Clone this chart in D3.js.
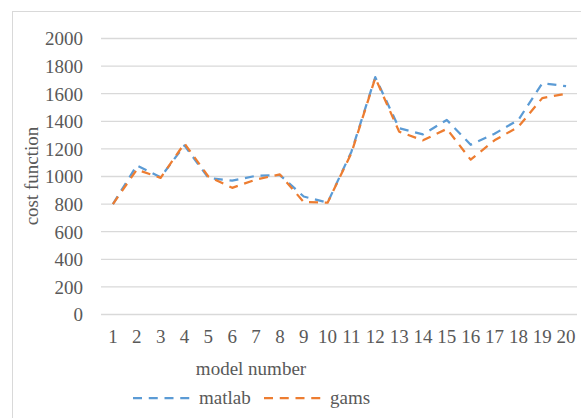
<!DOCTYPE html>
<html><head><meta charset="utf-8">
<script src="https://cdn.jsdelivr.net/npm/d3@7"></script>
<style>
html,body{margin:0;padding:0;background:#fff;}
</style></head>
<body>
<svg id="c" width="581" height="418"></svg>
<script>
const categories = [1,2,3,4,5,6,7,8,9,10,11,12,13,14,15,16,17,18,19,20];
const matlab = [800,1080,995,1225,990,970,1005,1010,855,810,1180,1720,1350,1305,1410,1230,1310,1410,1675,1655];
const gams   = [800,1050,990,1240,1000,918,978,1015,815,810,1170,1715,1325,1262,1345,1122,1262,1360,1568,1600];
const yTicks = [0,200,400,600,800,1000,1200,1400,1600,1800,2000];
const seriesNames = ["matlab","gams"];
const colors = ["#5B9BD5","#ED7D31"];

const svg = d3.select("#c");
const textColor = "#595959";
const fs = 19;
const FF = "'Liberation Serif'";

svg.append("rect").attr("x",12.5).attr("y",11.5).attr("width",600).attr("height",440)
  .attr("fill","none").attr("stroke","#D9D9D9").attr("stroke-width",1);

const x = d3.scaleBand().domain(categories).range([101,578]);
const y = d3.scaleLinear().domain([0,2000]).range([314.5,38.5]);

svg.append("g").selectAll("line").data(yTicks).join("line")
  .attr("x1",101).attr("x2",577).attr("y1",d=>y(d)).attr("y2",d=>y(d))
  .attr("stroke","#D9D9D9").attr("stroke-width",1.3);

const yAxis = d3.axisLeft(y).tickValues(yTicks).tickFormat(d3.format("d")).tickSize(0).tickPadding(0);
const gy = svg.append("g").attr("transform","translate(83,0)").call(yAxis);
gy.select(".domain").remove();
gy.selectAll("text").attr("fill",textColor).style("font-family",FF).style("font-size",fs+"px").attr("dy","0.34em");

const xAxis = d3.axisBottom(x).tickSize(0).tickPadding(0);
const gx = svg.append("g").attr("transform","translate(0,329)").call(xAxis);
gx.select(".domain").remove();
gx.selectAll("text").attr("fill",textColor).style("font-family",FF).style("font-size",fs+"px").attr("dy","0.71em");

svg.append("text").attr("x",251).attr("y",375).attr("text-anchor","middle")
  .attr("fill",textColor).style("font-family",FF).style("font-size",fs+"px").text("model number");
svg.append("text").attr("transform","translate(38,176) rotate(-90)").attr("text-anchor","middle")
  .attr("fill",textColor).style("font-family",FF).style("font-size",fs+"px").text("cost function");

const line = d3.line().x((d,i)=>x(categories[i])+x.bandwidth()/2).y(d=>y(d));
[matlab,gams].forEach((s,i)=>{
  svg.append("path").datum(s).attr("d",line).attr("fill","none")
    .attr("stroke",colors[i]).attr("stroke-width",2.25)
    .attr("stroke-dasharray","9,6.75").attr("stroke-linejoin","round");
});

const legendItems = [{x:133,tx:199},{x:264,tx:330}];
seriesNames.forEach((n,i)=>{
  const L = legendItems[i];
  svg.append("line").attr("x1",L.x).attr("x2",L.x+57).attr("y1",398).attr("y2",398)
    .attr("stroke",colors[i]).attr("stroke-width",2.25).attr("stroke-dasharray","9,6.75");
  svg.append("text").attr("x",L.tx).attr("y",398).attr("dy","0.34em")
    .attr("fill",textColor).style("font-family",FF).style("font-size",fs+"px").text(n);
});
</script>
</body></html>
